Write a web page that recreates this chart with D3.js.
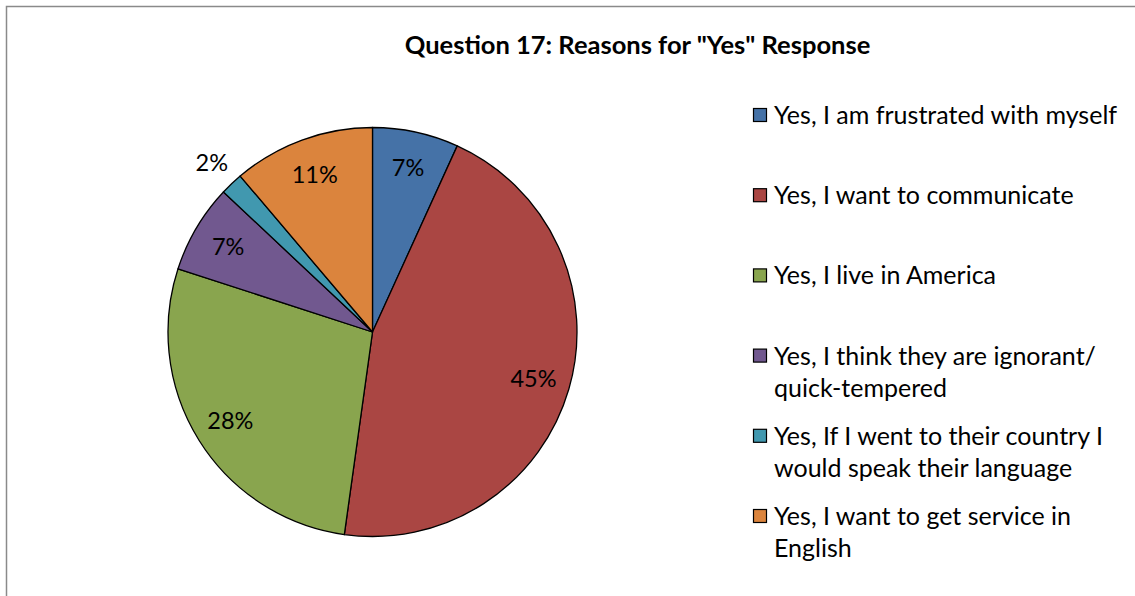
<!DOCTYPE html>
<html>
<head>
<meta charset="utf-8">
<script src="https://cdn.jsdelivr.net/npm/d3@7"></script>
<style>
  html, body { margin: 0; padding: 0; background: #fff; }
  svg { display: block; }
  text { font-family: Lato, "Open Sans", sans-serif; fill: #000; }
</style>
</head>
<body>
<svg id="chart" width="1135" height="596"></svg>
<script>
const title = 'Question 17: Reasons for "Yes" Response';
const categories = [
  ["Yes, I am frustrated with myself"],
  ["Yes, I want to communicate"],
  ["Yes, I live in America"],
  ["Yes, I think they are ignorant/", "quick-tempered"],
  ["Yes, If I went to their country I", "would speak their language"],
  ["Yes, I want to get service in", "English"]
];
const values = [6.8, 45.4, 27.8, 7.0, 1.8, 11.2];
const colors = ["#4572A7", "#AA4643", "#89A54E", "#71588F", "#4198AF", "#DB843D"];

const svg = d3.select("#chart");

// outer border
svg.append("rect")
  .attr("x", 6.5).attr("y", 6.5)
  .attr("width", 1200).attr("height", 700)
  .attr("fill", "none").attr("stroke", "#8a8a8a").attr("stroke-width", 1.5);

// title
svg.append("text")
  .attr("x", 637.5).attr("y", 54)
  .attr("text-anchor", "middle")
  .attr("font-weight", "bold")
  .attr("font-size", 25.5)
  .text(title);

// pie
const cx = 372.5, cy = 332, R = 204.5;
const total = d3.sum(values);
const pie = d3.pie().sort(null).value(d => d)(values);
const arc = d3.arc().innerRadius(0).outerRadius(R);
const g = svg.append("g").attr("transform", `translate(${cx},${cy})`);

g.selectAll("path.slice").data(pie).join("path")
  .attr("class", "slice")
  .attr("d", arc)
  .attr("fill", (d, i) => colors[i])
  .attr("stroke", "#000")
  .attr("stroke-width", 1.3)
  .attr("stroke-linejoin", "round");

const fmt = v => Math.round(v / total * 100) + "%";
const inLabel = d3.arc().innerRadius(R * 0.82).outerRadius(R * 0.82);
const outLabel = d3.arc().innerRadius(R * 1.14).outerRadius(R * 1.14);

g.selectAll("text.lbl").data(pie).join("text")
  .attr("class", "lbl")
  .attr("transform", d => {
    const small = (d.endAngle - d.startAngle) < 0.2;
    const [x, y] = (small ? outLabel : inLabel).centroid(d);
    return `translate(${x},${y})`;
  })
  .attr("text-anchor", "middle")
  .attr("dy", "0.35em")
  .attr("font-size", 23.5)
  .text(d => fmt(d.value));

// legend
const lg = svg.append("g");
const lx = 753, ly0 = 124, step = 80.2, lineH = 32;
categories.forEach((lines, i) => {
  const y = ly0 + i * step;
  lg.append("rect")
    .attr("x", lx + 0.5).attr("y", y - 15.5)
    .attr("width", 13).attr("height", 13)
    .attr("fill", colors[i])
    .attr("stroke", "#000").attr("stroke-width", 1.2);
  const t = lg.append("text")
    .attr("x", lx + 21).attr("y", y)
    .attr("font-size", 25);
  lines.forEach((s, j) => {
    t.append("tspan").attr("x", lx + 21).attr("y", y + j * lineH).text(s);
  });
});
</script>
</body>
</html>
